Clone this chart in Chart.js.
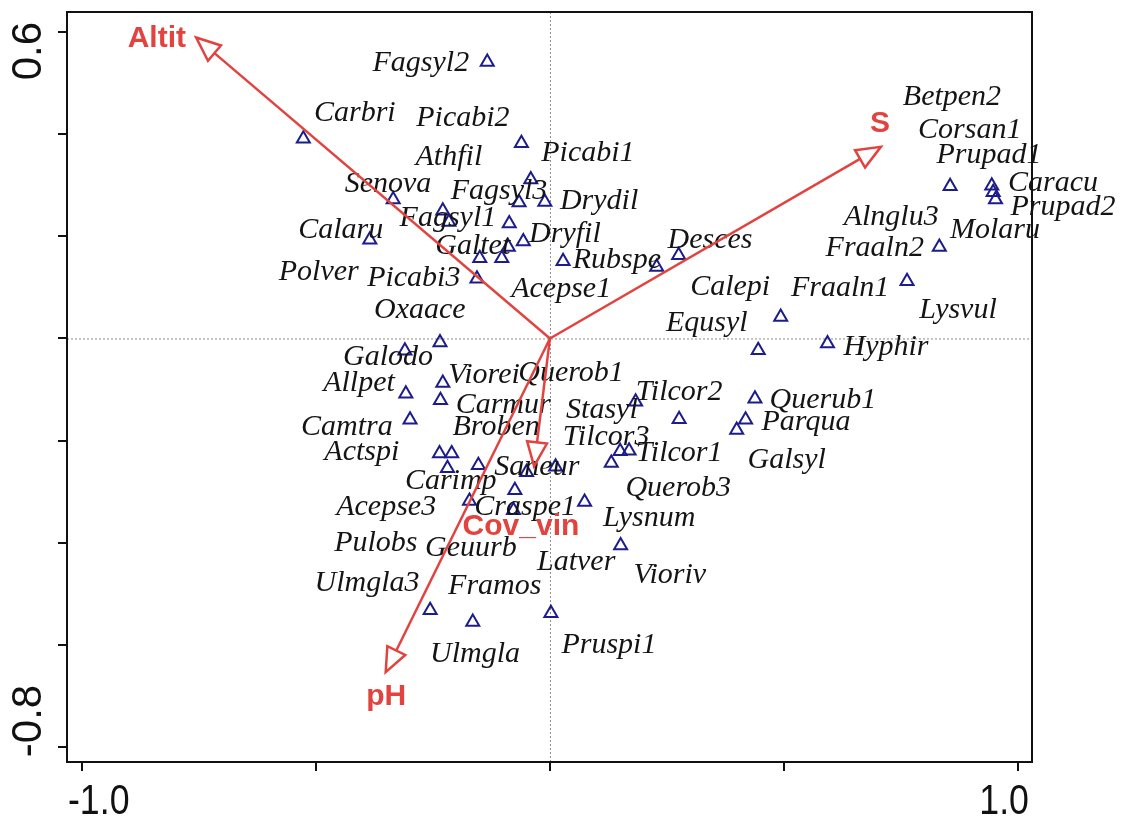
<!DOCTYPE html>
<html>
<head>
<meta charset="utf-8">
<script src="https://cdn.jsdelivr.net/npm/chart.js@4.4.0/dist/chart.umd.min.js"></script>
<style>
  html, body { margin: 0; padding: 0; background: #fff; }
</style>
</head>
<body>
<canvas id="grafico" width="1121" height="821"></canvas>
<script>
// species scores (triangles)
const speciesX = [-0.134, -0.527, -0.061, -0.041, -0.335, -0.229, -0.216, -0.066, -0.011, -0.087,
                  -0.057, -0.089, -0.150, -0.103, -0.156, -0.385, 0.028, 0.228, 0.275, 0.855,
                  0.944, 0.947, 0.952, 0.832, 0.763, 0.493, 0.445, 0.593, -0.235, -0.310,
                  -0.229, -0.308, -0.234, -0.299, -0.236, -0.210, -0.219, -0.153, -0.050, 0.012,
                  -0.075, -0.172, -0.078, 0.074, 0.131, 0.150, 0.169, 0.183, 0.276, 0.438,
                  0.418, 0.399, 0.151, 0.002, -0.256, -0.165];
const speciesY = [0.541, 0.391, 0.382, 0.311, 0.272, 0.250, 0.228, 0.266, 0.267, 0.225,
                  0.190, 0.179, 0.157, 0.157, 0.117, 0.193, 0.151, 0.140, 0.163, 0.298,
                  0.299, 0.286, 0.272, 0.179, 0.112, 0.042, -0.023, -0.010, -0.008, -0.024,
                  -0.087, -0.108, -0.121, -0.159, -0.225, -0.225, -0.254, -0.248, -0.262, -0.251,
                  -0.297, -0.318, -0.336, -0.320, -0.244, -0.221, -0.220, -0.124, -0.158, -0.118,
                  -0.159, -0.179, -0.405, -0.538, -0.532, -0.555];

// species names and where they sit on the plot
const labelNames = ['Fagsyl2', 'Carbri', 'Picabi2', 'Athfil', 'Picabi1', 'Senova', 'Fagsyl3', 'Drydil',
                    'Fagsyl1', 'Calaru', 'Galtet', 'Dryfil', 'Polver', 'Picabi3', 'Rubspe', 'Desces',
                    'Acepse1', 'Oxaace', 'Betpen2', 'Corsan1', 'Prupad1', 'Caracu', 'Prupad2', 'Alnglu3',
                    'Molaru', 'Fraaln2', 'Fraaln1', 'Lysvul', 'Calepi', 'Equsyl', 'Hyphir', 'Galodo',
                    'Allpet', 'Viorei', 'Querob1', 'Carmur', 'Camtra', 'Broben', 'Stasyl', 'Tilcor2',
                    'Querub1', 'Parqua', 'Tilcor3', 'Tilcor1', 'Actspi', 'Saneur', 'Galsyl', 'Carimp',
                    'Acepse3', 'Craspe1', 'Querob3', 'Lysnum', 'Pulobs', 'Geuurb', 'Latver', 'Vioriv',
                    'Ulmgla3', 'Framos', 'Ulmgla', 'Pruspi1'];
const labelX = [-0.276, -0.417, -0.186, -0.216, 0.081, -0.346, -0.109, 0.105,
                -0.218, -0.447, -0.165, 0.032, -0.494, -0.291, 0.143, 0.342,
                0.024, -0.278, 0.859, 0.897, 0.938, 1.075, 1.096, 0.729,
                0.951, 0.694, 0.620, 0.872, 0.385, 0.335, 0.718, -0.346,
                -0.408, -0.141, 0.045, -0.100, -0.434, -0.115, 0.111, 0.276,
                0.583, 0.547, 0.120, 0.276, -0.402, -0.028, 0.506, -0.212,
                -0.350, -0.053, 0.274, 0.212, -0.372, -0.169, 0.056, 0.256,
                -0.391, -0.118, -0.160, 0.126];
const labelY = [0.539, 0.441, 0.431, 0.355, 0.362, 0.302, 0.288, 0.268,
                0.236, 0.212, 0.181, 0.204, 0.130, 0.118, 0.153, 0.192,
                0.096, 0.055, 0.472, 0.408, 0.359, 0.304, 0.257, 0.237,
                0.212, 0.177, 0.098, 0.055, 0.100, 0.030, -0.017, -0.037,
                -0.088, -0.072, -0.068, -0.130, -0.174, -0.174, -0.140, -0.105,
                -0.121, -0.164, -0.193, -0.224, -0.222, -0.252, -0.239, -0.280,
                -0.330, -0.330, -0.293, -0.352, -0.400, -0.410, -0.438, -0.463,
                -0.479, -0.485, -0.618, -0.600];

// environmental variables (arrows)
const envNames = ['Altit', 'S', 'pH', 'Cov_vin'];
const envX = [-0.756, 0.707, -0.351, -0.034];
const envY = [0.589, 0.375, -0.653, -0.250];
const envLabelX = [-0.840, 0.705, -0.350, -0.062];
const envLabelY = [0.586, 0.421, -0.702, -0.369];

// axes
const xTicks = [-1.0, -0.5, 0, 0.5, 1.0];
const yTicks = [0.6, 0.4, 0.2, 0, -0.2, -0.4, -0.6, -0.8];
const xTickLabels = ['-1.0', '1.0'];
const yTickLabels = ['0.6', '-0.8'];

const RED = '#e2433f';

const biplotPlugin = {
    id: 'biplot',
    beforeDatasetsDraw(chart) {
        const { ctx, chartArea: a, scales: { x, y } } = chart;
        // lineas de cero punteadas
        ctx.save();
        ctx.strokeStyle = '#8c8c8c';
        ctx.lineWidth = 1;
        ctx.setLineDash([2, 2]);
        ctx.beginPath();
        ctx.moveTo(x.getPixelForValue(0) + 0.5, a.top);
        ctx.lineTo(x.getPixelForValue(0) + 0.5, a.bottom);
        ctx.moveTo(a.left, y.getPixelForValue(0) + 0.5);
        ctx.lineTo(a.right, y.getPixelForValue(0) + 0.5);
        ctx.stroke();
        ctx.restore();
    },
    afterDatasetsDraw(chart) {
        const { ctx, chartArea: a, scales: { x, y } } = chart;
        ctx.save();

        // species names
        ctx.fillStyle = '#141414';
        ctx.font = 'italic 30px "Liberation Serif", "Times New Roman", serif';
        ctx.textAlign = 'center';
        ctx.textBaseline = 'middle';
        labelNames.forEach((n, i) => {
            ctx.fillText(n, x.getPixelForValue(labelX[i]), y.getPixelForValue(labelY[i]));
        });

        // arrows
        const ox = x.getPixelForValue(0), oy = y.getPixelForValue(0);
        ctx.strokeStyle = RED;
        ctx.lineWidth = 2.5;
        ctx.lineJoin = 'miter';
        envNames.forEach((n, i) => {
            const tx = x.getPixelForValue(envX[i]), ty = y.getPixelForValue(envY[i]);
            const dx = tx - ox, dy = ty - oy, len = Math.hypot(dx, dy);
            const ux = dx / len, uy = dy / len;
            const bx = tx - ux * 24, by = ty - uy * 24;
            ctx.beginPath();
            ctx.moveTo(ox, oy);
            ctx.lineTo(bx, by);
            ctx.stroke();
            ctx.beginPath();
            ctx.moveTo(tx, ty);
            ctx.lineTo(bx - uy * 10, by + ux * 10);
            ctx.lineTo(bx + uy * 10, by - ux * 10);
            ctx.closePath();
            ctx.stroke();
        });
        ctx.fillStyle = RED;
        ctx.font = 'bold 30px "Liberation Sans", Arial, sans-serif';
        envNames.forEach((n, i) => {
            ctx.fillText(n, x.getPixelForValue(envLabelX[i]), y.getPixelForValue(envLabelY[i]));
        });

        // marco
        ctx.strokeStyle = '#111';
        ctx.lineWidth = 2;
        ctx.strokeRect(a.left, a.top, a.right - a.left, a.bottom - a.top);
        ctx.beginPath();
        xTicks.forEach(v => {
            const px = Math.round(x.getPixelForValue(v));
            ctx.moveTo(px, a.bottom);
            ctx.lineTo(px, a.bottom + 9);
        });
        yTicks.forEach(v => {
            const py = Math.round(y.getPixelForValue(v));
            ctx.moveTo(a.left, py);
            ctx.lineTo(a.left - 9, py);
        });
        ctx.stroke();

        // etiquetas de ejes
        ctx.fillStyle = '#111';
        ctx.font = '42px "Liberation Sans", Arial, sans-serif';
        ctx.textBaseline = 'middle';
        const xl = x.getPixelForValue(-1.0), xr = x.getPixelForValue(1.0);
        ctx.save();
        ctx.translate(xl - 14, 802);
        ctx.scale(0.85, 1);
        ctx.textAlign = 'left';
        ctx.fillText(xTickLabels[0], 0, 0);
        ctx.restore();
        ctx.save();
        ctx.translate(xr + 11, 802);
        ctx.scale(0.85, 1);
        ctx.textAlign = 'right';
        ctx.fillText(xTickLabels[1], 0, 0);
        ctx.restore();

        const yt = y.getPixelForValue(0.6), yb = y.getPixelForValue(-0.8);
        ctx.save();
        ctx.translate(29, yt - 10);
        ctx.rotate(-Math.PI / 2);
        ctx.textAlign = 'right';
        ctx.fillText(yTickLabels[0], 0, 0);
        ctx.restore();
        ctx.save();
        ctx.translate(29, yb + 10);
        ctx.rotate(-Math.PI / 2);
        ctx.textAlign = 'left';
        ctx.fillText(yTickLabels[1], 0, 0);
        ctx.restore();

        ctx.restore();
    }
};

const ctx = document.getElementById('grafico').getContext('2d');
new Chart(ctx, {
    type: 'scatter',
    data: {
        datasets: [{
            label: 'species',
            data: speciesX.map((v, i) => ({ x: v, y: speciesY[i] })),
            pointStyle: 'triangle',
            pointRadius: 7.5,
            pointBorderWidth: 2,
            pointBorderColor: '#1c1c8c',
            pointBackgroundColor: 'rgba(0,0,0,0)'
        }]
    },
    options: {
        responsive: false,
        animation: false,
        layout: { padding: { left: 67, right: 89, top: 12, bottom: 59 } },
        plugins: {
            legend: { display: false },
            tooltip: { enabled: false }
        },
        scales: {
            x: { type: 'linear', display: false, min: -1.032, max: 1.030 },
            y: { type: 'linear', display: false, min: -0.829, max: 0.639 }
        }
    },
    plugins: [biplotPlugin]
});
</script>
</body>
</html>
